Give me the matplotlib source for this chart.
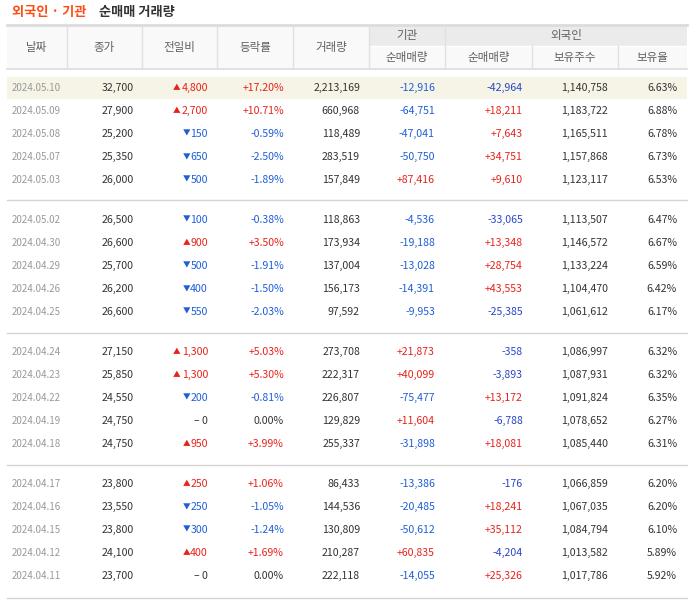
import matplotlib
matplotlib.use("Agg")
import matplotlib.pyplot as plt
from matplotlib.patches import Rectangle

plt.rcParams["font.family"] = ["Noto Sans CJK KR"]

dates = ["2024.05.10","2024.05.09","2024.05.08","2024.05.07","2024.05.03",
         "2024.05.02","2024.04.30","2024.04.29","2024.04.26","2024.04.25",
         "2024.04.24","2024.04.23","2024.04.22","2024.04.19","2024.04.18",
         "2024.04.17","2024.04.16","2024.04.15","2024.04.12","2024.04.11"]
close = [32700,27900,25200,25350,26000,26500,26600,25700,26200,26600,
         27150,25850,24550,24750,24750,23800,23550,23800,24100,23700]
change = [4800,2700,-150,-650,-500,-100,900,-500,-400,-550,
          1300,1300,-200,0,950,250,-250,-300,400,0]
rate = [17.20,10.71,-0.59,-2.50,-1.89,-0.38,3.50,-1.91,-1.50,-2.03,
        5.03,5.30,-0.81,0.00,3.99,1.06,-1.05,-1.24,1.69,0.00]
volume = [2213169,660968,118489,283519,157849,118863,173934,137004,156173,97592,
          273708,222317,226807,129829,255337,86433,144536,130809,210287,222118]
inst = [-12916,-64751,-47041,-50750,87416,-4536,-19188,-13028,-14391,-9953,
        21873,40099,-75477,11604,-31898,-13386,-20485,-50612,60835,-14055]
foreign = [-42964,18211,7643,34751,9610,-33065,13348,28754,43553,-25385,
           -358,-3893,13172,-6788,18081,-176,18241,35112,-4204,25326]
holdings = [1140758,1183722,1165511,1157868,1123117,1113507,1146572,1133224,1104470,1061612,
            1086997,1087931,1091824,1078652,1085440,1066859,1067035,1084794,1013582,1017786]
ratio = [6.63,6.88,6.78,6.73,6.53,6.47,6.67,6.59,6.42,6.17,
         6.32,6.32,6.35,6.27,6.31,6.20,6.20,6.10,5.89,5.92]

W, H = 698, 601
fig = plt.figure(figsize=(W/100, H/100), dpi=100)
ax = fig.add_axes([0, 0, 1, 1])
ax.set_xlim(0, W); ax.set_ylim(H, 0); ax.axis("off")

RED = "#e8221b"; BLUE = "#1f5fd6"; BLUE2 = "#2a45c8"; DARK = "#333333"; GRAY = "#999999"
HC = "#606060"
fs = 7.6

# title
ax.text(12, 12, "외국인 · 기관", color="#ff4b12", fontsize=9.5, fontweight="bold", va="center")
ax.text(99, 12, "순매매 거래량", color=DARK, fontsize=9.5, fontweight="bold", va="center")

L, R = 7, 687
bounds = [7, 67, 142, 217, 293, 369, 445, 532, 618, 687]
ax.add_patch(Rectangle((L, 25), R-L, 43, color="#f9f9f9", lw=0))
ax.add_patch(Rectangle((369, 25), R-369, 21, color="#ebebeb", lw=0))
ax.plot([L, R], [25, 25], color="#dcdcdc", lw=2)
ax.plot([L, R], [68.5, 68.5], color="#dcdcdc", lw=1.2)
ax.plot([369, R], [46, 46], color="#ffffff", lw=1)
for b in bounds[1:-1]:
    y0 = 46 if b in (532, 618) else 25
    ax.plot([b, b], [y0, 68], color="#e0e0e0", lw=1)
for i, t in enumerate(["날짜", "종가", "전일비", "등락률", "거래량"]):
    ax.text((bounds[i]+bounds[i+1])/2, 47, t, color=HC, fontsize=8.3, ha="center", va="center")
ax.text((369+445)/2, 36, "기관", color=HC, fontsize=8.3, ha="center", va="center")
ax.text((445+R)/2, 36, "외국인", color=HC, fontsize=8.3, ha="center", va="center")
for i, t in enumerate(["순매매량", "순매매량", "보유주수", "보유율"]):
    ax.text((bounds[5+i]+bounds[6+i])/2, 57, t, color=HC, fontsize=8.3, ha="center", va="center")

def ypos(i):
    g, r = divmod(i, 5)
    return 88 + g*132 + r*23

for g in range(4):
    ax.plot([L, R], [200 + g*132.5, 200 + g*132.5], color="#d5d5d5", lw=1)

ax.add_patch(Rectangle((L, 77), R-L, 22, color="#f6f4e6", lw=0))

def sgn(v):
    return "+" if v > 0 else ""

for i in range(len(dates)):
    y = ypos(i)
    ax.text(12, y, dates[i], color=GRAY, fontsize=7, va="center")
    ax.text(134, y, f"{close[i]:,}", color=DARK, fontsize=fs, ha="right", va="center")
    c = change[i]
    if c != 0:
        col = RED if c > 0 else BLUE
        t = ax.text(208, y, f"{abs(c):,}", color=col, fontsize=fs, ha="right", va="center")
        w = len(f"{abs(c):,}") * 5.0
        ax.text(208 - w - 3, y, "▲" if c > 0 else "▼", color=col, fontsize=5.5,
                ha="right", va="center")
    else:
        ax.text(208, y, "– 0", color=DARK, fontsize=fs, ha="right", va="center")
    rc = RED if rate[i] > 0 else (BLUE if rate[i] < 0 else DARK)
    ax.text(284, y, f"{sgn(rate[i])}{rate[i]:.2f}%", color=rc, fontsize=fs, ha="right", va="center")
    ax.text(360, y, f"{volume[i]:,}", color=DARK, fontsize=fs, ha="right", va="center")
    ax.text(435, y, f"{sgn(inst[i])}{inst[i]:,}", color=RED if inst[i] > 0 else BLUE,
            fontsize=fs, ha="right", va="center")
    ax.text(523, y, f"{sgn(foreign[i])}{foreign[i]:,}", color=RED if foreign[i] > 0 else BLUE2,
            fontsize=fs, ha="right", va="center")
    ax.text(608, y, f"{holdings[i]:,}", color=DARK, fontsize=fs, ha="right", va="center")
    ax.text(677, y, f"{ratio[i]:.2f}%", color=DARK, fontsize=fs, ha="right", va="center")

fig.savefig("out.png", dpi=100)
